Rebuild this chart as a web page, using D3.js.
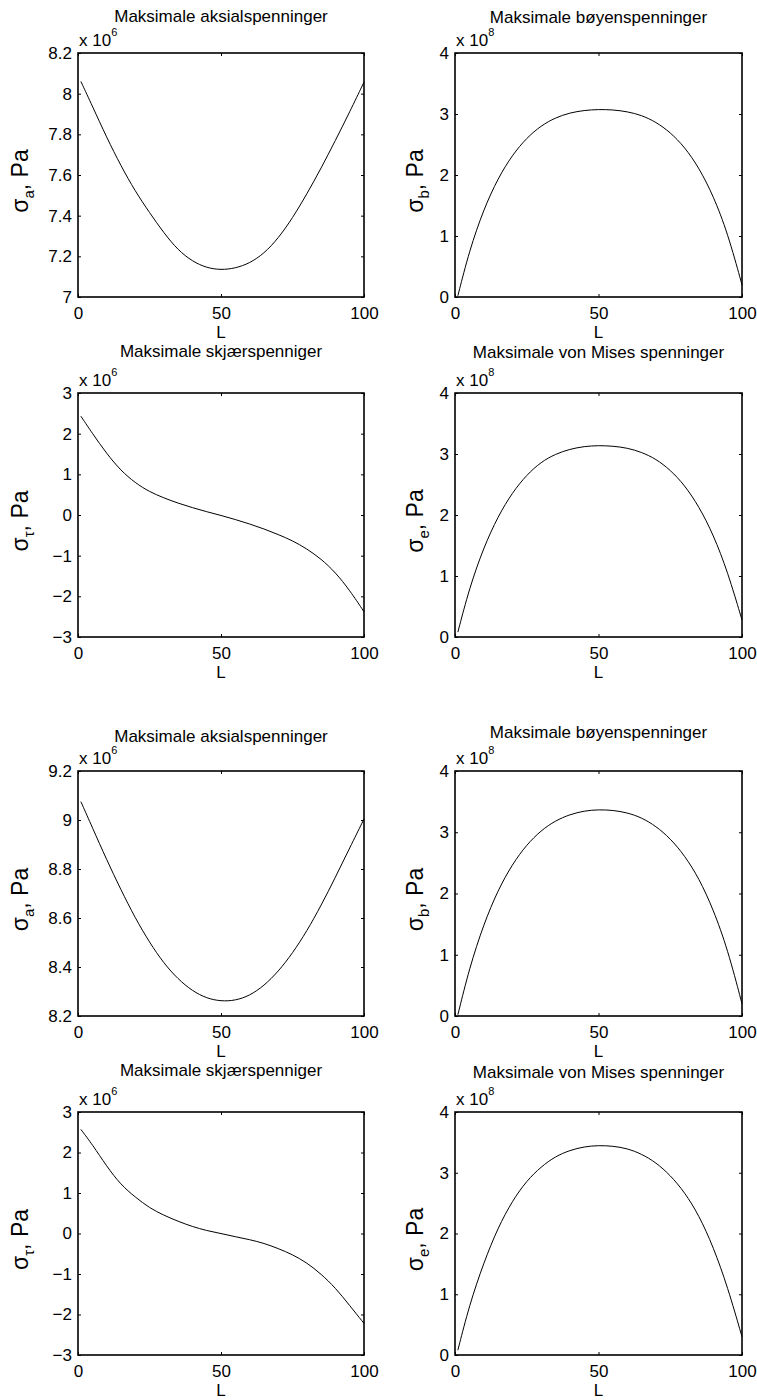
<!DOCTYPE html>
<html>
<head>
<meta charset="utf-8">
<script src="https://cdn.jsdelivr.net/npm/d3@7"></script>
<style>
  html, body { margin: 0; padding: 0; background: #fff; }
  svg { display: block; }
  text { font-family: "Liberation Sans", Arial, Helvetica, sans-serif; fill: #000; }
</style>
</head>
<body>
<svg id="fig" width="757" height="1400"></svg>
<script>
// Beam position along the member (L)
const L = [1, 5, 10, 15, 20, 25, 30, 35, 40, 45, 50, 55, 60, 65, 70, 75, 80, 85, 90, 95, 100];

// Case 1 (values in units of 1e6 Pa or 1e8 Pa, see exponents)
const aksial1 = [8.06, 7.94, 7.785, 7.645, 7.52, 7.415, 7.315, 7.23, 7.175, 7.143, 7.133, 7.141, 7.166, 7.213, 7.288, 7.388, 7.506, 7.633, 7.77, 7.91, 8.057];
const boyen1  = [0.02, 0.76, 1.44, 1.95, 2.33, 2.61, 2.81, 2.94, 3.02, 3.06, 3.076, 3.069, 3.04, 2.98, 2.87, 2.7, 2.46, 2.12, 1.66, 1.05, 0.2];
const skjaer1 = [2.43, 2.01, 1.51, 1.09, 0.79, 0.57, 0.42, 0.29, 0.18, 0.08, -0.01, -0.11, -0.22, -0.34, -0.48, -0.63, -0.83, -1.08, -1.41, -1.85, -2.38];
const mises1  = [0.08, 0.8, 1.47, 1.98, 2.37, 2.66, 2.87, 3.0, 3.08, 3.125, 3.14, 3.13, 3.1, 3.03, 2.92, 2.74, 2.49, 2.14, 1.68, 1.07, 0.28];

// Case 2
const aksial2 = [9.075, 8.97, 8.838, 8.715, 8.6, 8.5, 8.415, 8.35, 8.302, 8.272, 8.26, 8.263, 8.283, 8.323, 8.381, 8.456, 8.546, 8.651, 8.766, 8.886, 9.004];
const boyen2  = [0.02, 0.78, 1.5, 2.06, 2.48, 2.8, 3.03, 3.19, 3.29, 3.35, 3.37, 3.36, 3.32, 3.24, 3.1, 2.9, 2.62, 2.25, 1.74, 1.09, 0.2];
const skjaer2 = [2.57, 2.2, 1.66, 1.2, 0.9, 0.63, 0.45, 0.3, 0.17, 0.07, 0.0, -0.08, -0.15, -0.24, -0.37, -0.52, -0.72, -1.0, -1.34, -1.78, -2.22];
const mises2  = [0.08, 0.82, 1.52, 2.1, 2.54, 2.87, 3.1, 3.27, 3.37, 3.43, 3.45, 3.44, 3.4, 3.31, 3.17, 2.96, 2.68, 2.3, 1.78, 1.12, 0.3];

// Axis ticks
const xTicks = [0, 50, 100];
const yTicksAksial1 = [7, 7.2, 7.4, 7.6, 7.8, 8, 8.2];
const yTicksAksial2 = [8.2, 8.4, 8.6, 8.8, 9, 9.2];
const yTicksSkjaer = [-3, -2, -1, 0, 1, 2, 3];
const yTicksBoyen = [0, 1, 2, 3, 4];

// Titles, symbols and exponents
const titles = ["Maksimale aksialspenninger", "Maksimale bøyenspenninger", "Maksimale skjærspenniger", "Maksimale von Mises spenninger"];
const subscripts = ["a", "b", "τ", "e"];
const exponents = [6, 8, 6, 8];

// Panel definitions in reading order
const panels = [
  { title: titles[0], sub: subscripts[0], exp: exponents[0], ticks: yTicksAksial1, values: aksial1 },
  { title: titles[1], sub: subscripts[1], exp: exponents[1], ticks: yTicksBoyen,   values: boyen1 },
  { title: titles[2], sub: subscripts[2], exp: exponents[2], ticks: yTicksSkjaer,  values: skjaer1 },
  { title: titles[3], sub: subscripts[3], exp: exponents[3], ticks: yTicksBoyen,   values: mises1 },
  { title: titles[0], sub: subscripts[0], exp: exponents[0], ticks: yTicksAksial2, values: aksial2 },
  { title: titles[1], sub: subscripts[1], exp: exponents[1], ticks: yTicksBoyen,   values: boyen2 },
  { title: titles[2], sub: subscripts[2], exp: exponents[2], ticks: yTicksSkjaer,  values: skjaer2 },
  { title: titles[3], sub: subscripts[3], exp: exponents[3], ticks: yTicksBoyen,   values: mises2 }
];

// Layout
const cols = [[78, 364], [455, 742]];
const rows = [[53, 297], [393, 637], [771, 1016], [1112, 1355]];
const titleBaselines = [22, 23, 357, 358, 742, 738, 1076, 1078];
const yLabelX = [28, 423];
const FONT = 17;
const TICK = 3;

const svg = d3.select("#fig");

const fmt = d => {
  const s = String(+d.toFixed(2));
  return d < 0 ? "\u2212" + s.slice(1) : s;
};

panels.forEach((p, i) => {
  const [x0, x1] = cols[i % 2];
  const [y0, y1] = rows[Math.floor(i / 2)];

  const x = d3.scaleLinear().domain([0, 100]).range([x0, x1]);
  const y = d3.scaleLinear().domain(d3.extent(p.ticks)).range([y1, y0]);

  const g = svg.append("g");

  // Curve
  const line = d3.line()
    .x((d, k) => x(L[k]))
    .y(d => y(d))
    .curve(d3.curveBasis);
  g.append("path")
    .datum(p.values)
    .attr("d", line)
    .attr("fill", "none")
    .attr("stroke", "#000")
    .attr("stroke-width", 1);

  // Inward ticks on all four sides
  const axes = [
    { ax: d3.axisBottom(x).tickValues(xTicks).tickSize(-TICK).tickPadding(10).tickFormat(fmt), t: `translate(0,${y1})` },
    { ax: d3.axisTop(x).tickValues(xTicks).tickSize(-TICK).tickFormat(""), t: `translate(0,${y0})` },
    { ax: d3.axisLeft(y).tickValues(p.ticks).tickSize(-TICK).tickPadding(6).tickFormat(fmt), t: `translate(${x0},0)` },
    { ax: d3.axisRight(y).tickValues(p.ticks).tickSize(-TICK).tickFormat(""), t: `translate(${x1},0)` }
  ];
  axes.forEach(a => {
    const ag = g.append("g").attr("transform", a.t).call(a.ax);
    ag.select(".domain").remove();
    ag.selectAll("line").attr("stroke", "#000").attr("stroke-width", 1);
    ag.selectAll("text")
      .attr("font-size", FONT)
      .attr("font-family", null)
      .attr("fill", "#000");
  });

  // Axes box
  g.append("rect")
    .attr("x", x0).attr("y", y0)
    .attr("width", x1 - x0).attr("height", y1 - y0)
    .attr("fill", "none")
    .attr("stroke", "#000")
    .attr("stroke-width", 1.6);

  // Exponent label
  const ex = g.append("text")
    .attr("x", x0 + 1)
    .attr("y", y0 - 7)
    .attr("font-size", FONT)
    .text("x 10");
  ex.append("tspan")
    .attr("font-size", 11)
    .attr("dy", -10)
    .text(p.exp);

  // Title
  g.append("text")
    .attr("x", (x0 + x1) / 2)
    .attr("y", titleBaselines[i])
    .attr("text-anchor", "middle")
    .attr("font-size", FONT)
    .text(p.title);

  // x label
  g.append("text")
    .attr("x", (x0 + x1) / 2)
    .attr("y", y1 + 41)
    .attr("text-anchor", "middle")
    .attr("font-size", FONT)
    .text("L");

  // y label
  const yl = g.append("text")
    .attr("transform", `translate(${yLabelX[i % 2]},${(y0 + y1) / 2 + 6}) rotate(-90)`)
    .attr("text-anchor", "middle")
    .attr("font-size", 23);
  yl.append("tspan").text("σ");
  yl.append("tspan").attr("font-size", 15).attr("dy", 6).text(p.sub);
  yl.append("tspan").attr("dy", -6).text(", Pa");
});
</script>
</body>
</html>
